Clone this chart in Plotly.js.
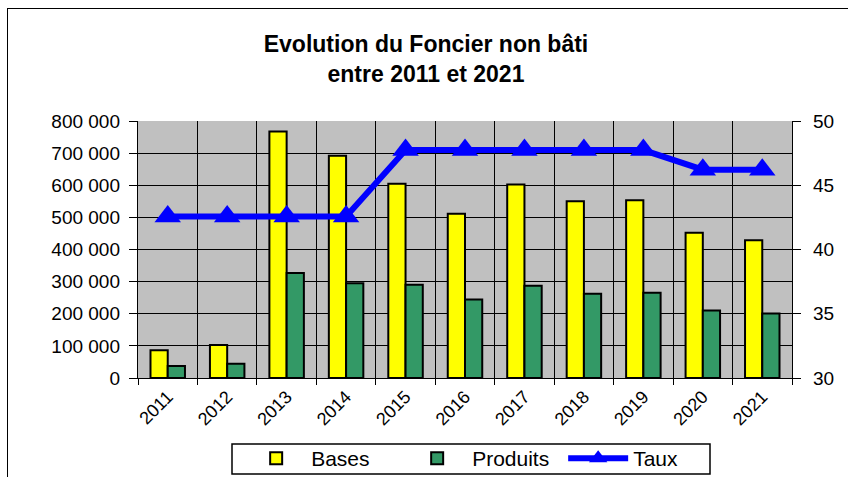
<!DOCTYPE html>
<html>
<head>
<meta charset="utf-8">
<script src="https://cdn.plot.ly/plotly-3.0.1.min.js"></script>
<style>
  html, body { margin: 0; padding: 0; background: #fff; }
  #wrap { position: relative; width: 848px; height: 477px; overflow: hidden; }
  #chart { width: 848px; height: 477px; }
  #frame { position: absolute; left: 7px; top: 8px; width: 900px; height: 500px;
           border-left: 1.5px solid #000; border-top: 1.5px solid #000; pointer-events: none; }
</style>
</head>
<body>
<div id="wrap">
  <div id="chart"></div>
  <div id="frame"></div>
</div>
<script>
const years = ['2011','2012','2013','2014','2015','2016','2017','2018','2019','2020','2021'];
const bases = [86000, 103000, 767000, 692000, 605000, 511000, 602000, 550000, 553000, 452000, 429000];
const produits = [37000, 44000, 327000, 295000, 290000, 244000, 287000, 262000, 265000, 210000, 201000];
const taux = [42.56, 42.56, 42.56, 42.56, 47.74, 47.74, 47.74, 47.74, 47.74, 46.21, 46.21];
const leftTicks = [0, 100000, 200000, 300000, 400000, 500000, 600000, 700000, 800000];
const leftTickText = ['0', '100 000', '200 000', '300 000', '400 000', '500 000', '600 000', '700 000', '800 000'];
const rightTicks = [30, 35, 40, 45, 50];

const font = 'Liberation Sans, Arial, sans-serif';

const traces = [
  { type: 'bar', name: 'Bases', x: years, y: bases,
    marker: { color: '#FFFF00', line: { color: '#000', width: 2 } } },
  { type: 'bar', name: 'Produits', x: years, y: produits,
    marker: { color: '#339966', line: { color: '#000', width: 2 } } },
  { type: 'scatter', mode: 'lines+markers', name: 'Taux', x: years, y: taux, yaxis: 'y2',
    line: { color: '#0000FF', width: 6 },
    marker: { symbol: 'triangle-up', size: 23, color: '#0000FF' } }
];

const layout = {
  width: 848, height: 477,
  margin: { l: 138, r: 56, t: 121, b: 99, autoexpand: false },
  paper_bgcolor: '#ffffff',
  plot_bgcolor: '#C0C0C0',
  font: { family: font, size: 17, color: '#000' },
  title: {
    text: '<b>Evolution du Foncier non bâti<br>entre 2011 et 2021</b>',
    font: { family: font, size: 23, color: '#000' },
    x: 426/848, xref: 'container', xanchor: 'center',
    y: 1 - 52/477, yref: 'container', yanchor: 'top'
  },
  barmode: 'group',
  bargap: 0.42,
  bargroupgap: 0,
  showlegend: true,
  legend: {
    orientation: 'h', x: 0.527, xanchor: 'center', y: -0.2335, yanchor: 'top',
    borderwidth: 0, bgcolor: 'rgba(0,0,0,0)',
    itemwidth: 60, entrywidth: 86, entrywidthmode: 'pixels',
    font: { family: font, size: 21, color: '#000' }, traceorder: 'normal'
  },
  shapes: [
    { type: 'rect', xref: 'paper', yref: 'paper',
      x0: (232 - 138) / 654, x1: (710 - 138) / 654,
      y0: (378 - 474) / 257, y1: (378 - 444) / 257,
      line: { color: '#000', width: 1.5 }, fillcolor: 'rgba(0,0,0,0)', layer: 'above' }
  ],
  xaxis: {
    type: 'category', range: [-0.5, 10.5], tickangle: -45, tickson: 'boundaries', automargin: false,
    showgrid: true, gridcolor: '#000', gridwidth: 1,
    showline: true, linecolor: '#000', linewidth: 1.2,
    ticks: 'outside', ticklen: 6, tickcolor: '#000',
    tickfont: { family: font, size: 18 }, mirror: false
  },
  yaxis: {
    range: [0, 800000], tickvals: leftTicks, ticktext: leftTickText, automargin: false,
    showgrid: true, gridcolor: '#000', gridwidth: 1, zeroline: false,
    showline: true, linecolor: '#000', linewidth: 1.2,
    ticks: 'outside', ticklen: 8, tickcolor: '#000', ticklabelstandoff: 5,
    tickfont: { family: font, size: 19 }
  },
  yaxis2: {
    range: [30, 50], tickvals: rightTicks, overlaying: 'y', side: 'right', automargin: false,
    showgrid: false, zeroline: false,
    showline: true, linecolor: '#000', linewidth: 1.2,
    ticks: 'outside', ticklen: 8, tickcolor: '#000', ticklabelstandoff: 8,
    tickfont: { family: font, size: 19 }
  }
};

Plotly.newPlot('chart', traces, layout, { displayModeBar: false, staticPlot: true });
</script>
</body>
</html>
